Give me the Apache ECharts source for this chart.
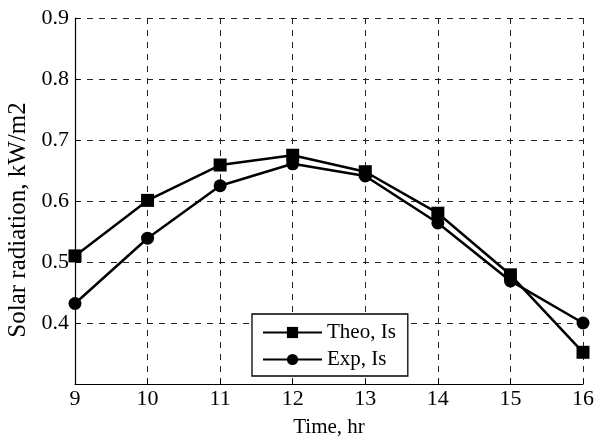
<!DOCTYPE html>
<html>
<head>
<meta charset="utf-8">
<script src="https://cdn.jsdelivr.net/npm/echarts@6/dist/echarts.min.js"></script>
<style>html,body{margin:0;padding:0;background:#fff}#c{width:594px;height:439px}</style>
</head>
<body>
<div id="c"></div>
<script>
var hours = [9, 10, 11, 12, 13, 14, 15, 16];
var theoIs = [0.510, 0.601, 0.659, 0.675, 0.648, 0.580, 0.479, 0.352];
var expIs = [0.432, 0.539, 0.625, 0.661, 0.641, 0.564, 0.469, 0.400];
var seriesNames = ['Theo, Is', 'Exp, Is'];
var xTitle = 'Time, hr';
var yTitle = 'Solar radiation, kW/m2';

var FONT = 'Liberation Serif';
function pairs(xs, ys) { return xs.map(function (x, i) { return [x, ys[i]]; }); }

var chart = echarts.init(document.getElementById('c'), null, {renderer: 'canvas'});
var dashed = {show: true, lineStyle: {color: '#222', width: 1, type: [6, 6]}};
chart.setOption({
  animation: false,
  backgroundColor: '#fff',
  grid: {left: 75, right: 11, top: 18, bottom: 55, containLabel: false, outerBoundsMode: 'none'},
  xAxis: {
    type: 'value', min: 9, max: 16, interval: 1,
    name: xTitle, nameLocation: 'middle', nameGap: 33,
    nameTextStyle: {fontFamily: FONT, fontSize: 21, color: '#000'},
    axisLine: {show: true, onZero: false, lineStyle: {color: '#000', width: 1.2}},
    axisTick: {show: true, inside: true, length: 5, lineStyle: {color: '#000'}},
    axisLabel: {fontFamily: FONT, fontSize: 22, color: '#000', margin: 4},
    splitLine: dashed
  },
  yAxis: {
    type: 'value', min: 0.3, max: 0.9, interval: 0.1,
    name: yTitle, nameLocation: 'middle', nameGap: 40,
    nameTextStyle: {fontFamily: FONT, fontSize: 25, color: '#000', padding: [0, 38, 0, 0]},
    axisLine: {show: true, lineStyle: {color: '#000', width: 1.2}},
    axisTick: {show: true, inside: true, length: 5, lineStyle: {color: '#000'}},
    axisLabel: {fontFamily: FONT, fontSize: 22, color: '#000', margin: 6,
      formatter: function (v) { return Math.abs(v - 0.3) < 1e-6 ? '' : v.toFixed(1); }},
    splitLine: dashed
  },
  legend: {
    left: 252, top: 314, orient: 'vertical',
    backgroundColor: '#fff', borderColor: '#000', borderWidth: 1.3,
    padding: [8, 12, 6, 10], itemGap: 6, itemWidth: 59, itemHeight: 14,
    textStyle: {fontFamily: FONT, fontSize: 21, color: '#000'},
    data: seriesNames
  },
  series: [
    {name: seriesNames[0], type: 'line', data: pairs(hours, theoIs), symbol: 'rect', symbolSize: 13,
     itemStyle: {color: '#000'}, lineStyle: {color: '#000', width: 2.5}, z: 3},
    {name: seriesNames[1], type: 'line', data: pairs(hours, expIs), symbol: 'circle', symbolSize: 13,
     itemStyle: {color: '#000'}, lineStyle: {color: '#000', width: 2.5}, z: 3}
  ]
});
</script>
</body>
</html>
